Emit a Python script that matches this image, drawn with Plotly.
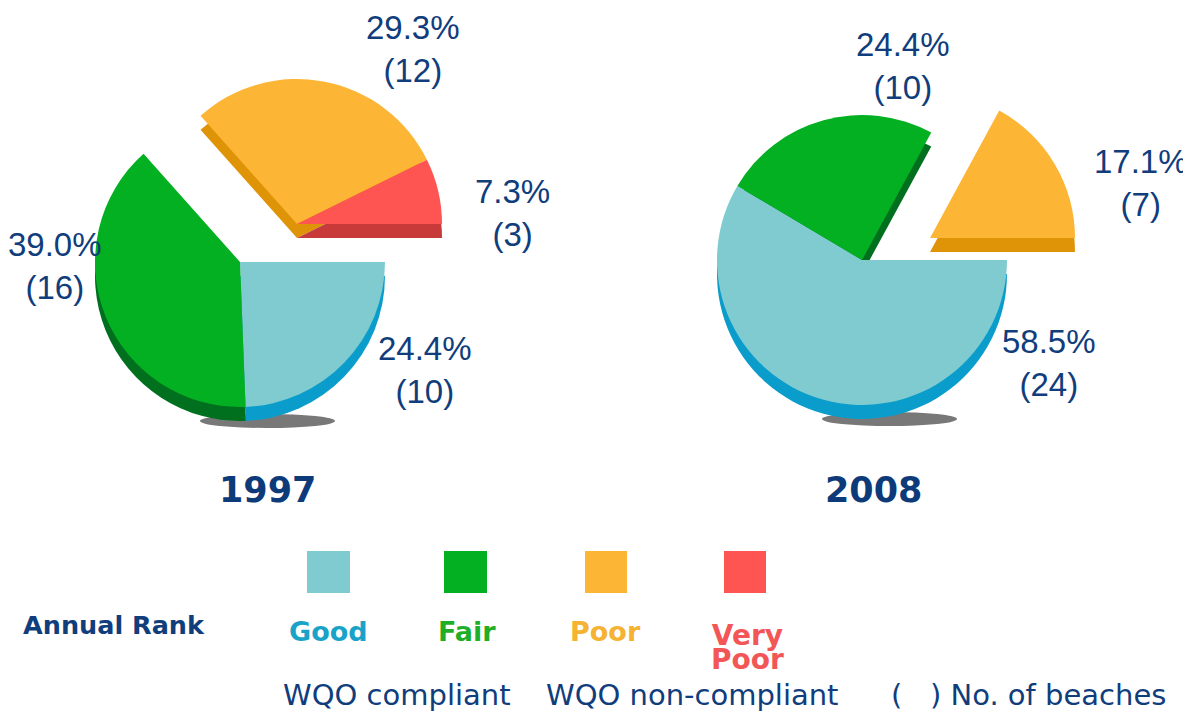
import plotly.graph_objects as go

# ---------------- data ----------------
categories = ["Good", "Fair", "Poor", "Very Poor"]
years = ["1997", "2008"]
beaches_1997 = [10, 16, 12, 3]
beaches_2008 = [24, 10, 7, 0]
pulled_1997 = [False, False, True, True]
pulled_2008 = [False, False, True, True]
footer_labels = ["WQO compliant", "WQO non-compliant", "(   ) No. of beaches"]

# ---------------- style ----------------
PAGE_W, PAGE_H = 1191, 713
OFF = 8                      # default body margin of the html page
W, H = PAGE_W - OFF, PAGE_H - OFF
TOP = ["#80cbd0", "#03b021", "#fcb534", "#fe5553"]
SIDE = ["#0a9dcb", "#00701f", "#df9306", "#c83a3a"]
LEG_TXT = ["#1aa3c8", "#1fae27", "#f6b233", "#f35656"]
NAVY = "#103d7c"
CLEAR = "rgba(0,0,0,0)"
R = 145
THICK = 14

pies = [
    dict(vals=beaches_1997, pulled=pulled_1997, c=(240, 262), off=(57, -38),
         lab=[(425, 370), (55, 266), (413, 49), (512, 213)], year_xy=(267, 490)),
    dict(vals=beaches_2008, pulled=pulled_2008, c=(862, 260), off=(68, -22),
         lab=[(1049, 363), (903, 66), (1141, 183), None], year_xy=(873, 490)),
]


def px(x, y):
    return (x - OFF) / W, 1 - (y - OFF) / H


def dom(cx, cy, r=R):
    x0, y1 = px(cx - r, cy - r)
    x1, y0 = px(cx + r, cy + r)
    return dict(x=[x0, x1], y=[y0, y1])


fig = go.Figure()
annotations = []
shapes = []


def ann(text, xy, size, color, bold=False, family="DejaVu Sans"):
    x, y = px(*xy)
    font = dict(family=family, size=size, color=color)
    if bold:
        font["weight"] = "bold"
    annotations.append(dict(x=x, y=y, xref="paper", yref="paper", showarrow=False,
                            text=text, font=font, xanchor="center", yanchor="middle"))


for p, yr in zip(pies, years):
    vals = p["vals"]
    cx, cy = p["c"]
    ox, oy = p["off"]
    # shadow below pie
    sx0, sy1 = px(cx - 40, cy + R + THICK - 7)
    sx1, sy0 = px(cx + 95, cy + R + THICK + 7)
    shapes.append(dict(type="circle", xref="paper", yref="paper", layer="below",
                       x0=sx0, x1=sx1, y0=sy0, y1=sy1,
                       fillcolor="rgba(30,30,30,0.6)", line=dict(width=0)))
    groups = [
        ([not q for q in p["pulled"]], cx, cy),
        (p["pulled"], cx + ox, cy + oy),
    ]
    for mask, gx, gy in groups:
        for colors, dy in ((SIDE, THICK), (TOP, 0)):
            cols = [c if m else CLEAR for c, m in zip(colors, mask)]
            fig.add_trace(go.Pie(
                labels=categories, values=vals, sort=False, direction="clockwise",
                rotation=90, domain=dom(gx, gy + dy), textinfo="none",
                marker=dict(colors=cols, line=dict(width=0)),
                showlegend=False, hoverinfo="label+value+percent" if dy == 0 else "skip",
            ))
    total = sum(vals)
    for v, xy in zip(vals, p["lab"]):
        if v == 0 or xy is None:
            continue
        ann(f"{100 * v / total:.1f}%<br>({v})", xy, 33, NAVY, family="Liberation Sans, Arial")
    ann(yr, p["year_xy"], 35, "#0d3a78", bold=True)

# legend swatches + labels
sw_x = [(307, 350), (444, 487), (585, 627), (724, 766)]
for (a, b), col in zip(sw_x, TOP):
    x0, y1 = px(a, 551)
    x1, y0 = px(b, 593)
    shapes.append(dict(type="rect", xref="paper", yref="paper",
                       x0=x0, x1=x1, y0=y0, y1=y1, fillcolor=col, line=dict(width=0)))

leg_pos = [(328, 631), (467, 631), (605, 631), (747, 647)]
for cat, xy, col in zip(categories, leg_pos, LEG_TXT):
    words = cat.split(" ")
    if len(words) > 1:
        text = "<br>".join(f"<span style='font-size:28px'>{w}</span>" for w in words)
        ann(text, xy, 18.5, col, bold=True)
    else:
        ann(cat, xy, 27, col, bold=True)

ann("Annual Rank", (114, 625), 25.5, NAVY, bold=True)
for t, fx in zip(footer_labels, [397, 692, 1028]):
    ann(t, (fx, 695), 29, NAVY)

fig.update_layout(width=W, height=H, margin=dict(l=0, r=0, t=0, b=0),
                  paper_bgcolor="white", plot_bgcolor="white",
                  annotations=annotations, shapes=shapes, showlegend=False)
fig.write_html("out.html")
